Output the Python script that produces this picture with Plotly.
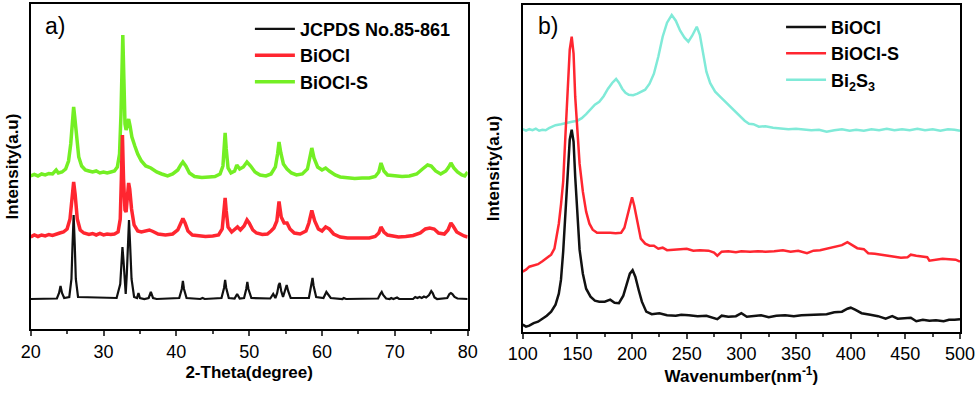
import plotly.graph_objects as go

# ---- a) XRD ----
jcpds_x = [20, 23.6, 23.9, 24.1, 24.3, 24.6, 25.3, 25.6, 25.75, 25.9, 26.05, 26.2, 26.5,
           31.8, 32.3, 32.45, 32.6, 32.75, 32.95, 33.05, 33.2, 33.35, 33.5, 33.65, 33.85, 34.2,
           34.6, 34.8, 35.0, 35.6, 36.2, 36.5, 36.8, 37.3, 40.4, 40.75, 40.9, 41.05, 41.4,
           43.3, 43.6, 43.9, 46.2, 46.55, 46.7, 46.85, 47.2, 48.0, 48.35, 48.7,
           49.3, 49.6, 49.75, 49.9, 50.3, 52.9, 53.3, 53.6, 53.85, 54.05, 54.2, 54.4, 54.65,
           54.9, 55.15, 55.35, 55.7, 58.2, 58.55, 58.7, 58.85, 59.2, 60.2, 60.6, 60.8, 61.2,
           62.8, 63.0, 63.3, 67.7, 68.0, 68.2, 68.4, 68.8, 69.3, 69.5, 69.8, 70.1, 70.3, 70.6,
           72.5, 72.8, 73.1, 73.4, 73.7, 74.0, 74.3, 74.7, 75.0, 75.2, 75.45, 75.8,
           77.2, 77.5, 77.7, 77.9, 78.2, 78.6, 80]
jcpds_y = [30, 30.5, 36, 43, 36, 31, 32, 50, 85, 114, 85, 50, 32,
           31, 45, 65, 82, 68, 40, 35, 55, 90, 109, 85, 50, 32,
           31, 36, 31, 30, 31, 37, 31, 30, 31, 40, 48, 40, 31,
           30, 31, 30, 31, 41, 49, 41, 31, 30.5, 35, 30.5,
           31, 40, 47, 40, 31, 30.5, 35, 31, 36, 44, 46, 38, 32,
           38, 44, 38, 31, 31, 44, 51, 43, 32, 31, 37, 35, 31,
           30, 31, 30, 30.5, 35, 37, 34, 30.5, 30, 31, 30, 30.5, 31.5, 30,
           30, 32, 31, 32, 31, 32.5, 31.5, 34, 38, 36, 31.5, 30,
           31, 35, 36, 35, 32, 30.5, 30]

biocl_x = [20, 20.5, 21, 21.5, 22, 22.5, 23, 23.5, 24, 24.5, 25, 25.4, 25.7, 25.9, 26.1, 26.4,
           26.8, 27.3, 28, 28.5, 29, 29.5, 30, 30.5, 31, 31.5, 32, 32.3, 32.45, 32.6, 32.75,
           32.95, 33.1, 33.3, 33.45, 33.6, 33.85, 34.2, 34.7, 35.2, 35.8, 36.3, 36.8, 37.5,
           38.5, 39.5, 40.2, 40.6, 40.9, 41.2, 41.6, 42.2, 43, 44, 45, 45.8, 46.3, 46.55, 46.7,
           46.85, 47.1, 47.6, 48.0, 48.4, 48.8, 49.3, 49.7, 50.0, 50.5, 51, 51.8, 52.5, 53,
           53.4, 53.8, 54.1, 54.4, 54.8, 55.2, 55.6, 56.2, 57, 57.8, 58.2, 58.6, 59, 59.5, 60.0,
           60.5, 61, 61.6, 62.5, 63.5, 64.5, 65.5, 66.5, 67.3, 67.8, 68.1, 68.5, 69, 69.8,
           70.5, 71.5, 72.5, 73.5, 74.2, 74.8, 75.4, 76, 76.8, 77.3, 77.7, 78, 78.5, 79, 79.5, 80]
biocl_y = [92, 94, 92.5, 94, 93, 94.5, 93.5, 95, 96, 97, 100, 110, 135, 147, 135, 110,
           99, 96, 94.5, 95.5, 94, 95.5, 94, 95, 94.5, 95, 97, 110, 150, 194, 150,
           119, 117, 138, 146, 140, 120, 104, 98, 97, 98, 99, 97.5, 95,
           94, 95, 99, 106, 110.5, 106, 98, 94, 93, 92.5, 93, 94, 100, 118, 131,
           118, 102, 97, 99, 102, 99, 103, 109, 106, 99, 96, 94.5, 95, 98,
           101, 108, 127.5, 112, 106, 106, 100, 96, 95, 98, 106, 118.5, 108, 100, 98,
           102, 100, 95, 92, 91, 91, 90.5, 91, 92.5, 96, 102, 97, 94, 93,
           92, 92.5, 93.5, 96, 100, 101, 100, 96, 95, 99, 106, 103, 97, 95, 93, 92]

bioclS_x = [20, 20.5, 21, 21.5, 22, 22.5, 23, 23.5, 23.8, 24.3, 24.8, 25.2, 25.5, 25.75, 25.9,
            26.05, 26.3, 26.6, 27, 27.5, 28, 28.5, 29, 29.5, 30, 30.5, 31, 31.5, 31.9, 32.2,
            32.4, 32.55, 32.65, 32.8, 32.95, 33.1, 33.3, 33.45, 33.65, 33.9, 34.3, 34.7, 35.2,
            35.8, 36.5, 37.3, 38, 38.8, 39.5, 40.2, 40.6, 40.9, 41.3, 41.8, 42.5, 43.5, 44.5,
            45.3, 46.0, 46.4, 46.6, 46.7, 46.85, 47.1, 47.5, 48.0, 48.3, 48.7, 49.2, 49.7, 50.2,
            50.8, 51.5, 52.3, 53, 53.6, 53.9, 54.1, 54.35, 54.7, 55.2, 55.8, 56.5, 57.3, 58,
            58.35, 58.6, 58.9, 59.4, 60, 60.5, 61, 61.8, 62.5, 63.5, 64.5, 65.5, 66.5, 67.3,
            67.8, 68.1, 68.5, 69, 70, 71, 72, 73, 73.8, 74.5, 75, 75.6, 76.3, 77, 77.4, 77.7,
            78.1, 78.6, 79.2, 79.6, 80]
bioclS_y = [153, 154.5, 153, 155, 154, 155.5, 155, 159, 156, 157, 160, 168, 185, 210, 222,
            212, 190, 172, 163, 159, 158, 157, 158, 156, 157, 156, 157, 158, 162, 175,
            215, 280, 294, 250, 205, 199, 208, 210, 203, 192, 183, 175, 168,
            163, 161, 157, 155, 153, 155, 159, 164, 167, 163, 156, 152.5, 151.5, 152,
            152.5, 155, 163, 185, 196, 180, 161, 156, 158, 164, 160, 162, 167, 163,
            157, 154, 153, 155, 162, 175, 187, 176, 165, 160, 156, 154, 155, 160,
            171, 181, 171, 162, 159, 161, 158, 154, 152, 151, 150.5, 151, 151, 152.5,
            157, 166, 158, 154, 153, 152.5, 153, 155, 160, 164, 163, 158, 155, 158, 162, 166,
            161, 157, 154, 153, 157]

# ---- b) Raman ----
r_biocl_x = [100, 103, 106, 110, 114, 118, 122, 126, 130, 133, 135, 137, 139, 141, 143, 144.8,
             146.5, 148, 150, 152, 155, 158, 162, 166, 170, 175, 180, 184, 188, 192, 195, 198,
             200.5, 203, 206, 209, 213, 218, 225, 232, 240, 245, 252, 260, 268, 275, 278, 282,
             288, 295, 300, 305, 312, 318, 325, 332, 340, 348, 355, 362, 370, 378, 385, 392,
             397, 400, 404, 410, 418, 425, 432, 438, 443, 450, 455, 460, 466, 472, 478, 485,
             490, 495, 500]
r_biocl_y = [7, 5, 6, 8.5, 10, 13, 16, 20, 27, 38, 52, 80, 120, 162, 192, 202,
             190, 155, 115, 82, 58, 43, 35, 31, 30, 30, 32, 29, 28.5, 36, 47, 58,
             61.5, 55, 42, 30, 20, 17.5, 18.5, 16.5, 16, 17, 16.5, 15.5, 16, 14, 12.5, 16,
             15, 15.5, 18.5, 15, 15.5, 16.5, 14.5, 16, 16.5, 15.5, 16.5, 17, 17.5, 17.5, 19.5, 20,
             23, 24, 22, 18.5, 17, 15.5, 13, 15.5, 13, 13.5, 14, 10.5, 12, 11, 11.5, 10.5,
             12, 12, 12.5]

r_bioclS_x = [100, 103, 106, 110, 114, 118, 122, 126, 129, 131, 133, 135, 137, 139, 141, 143,
              144.8, 146.5, 148, 150, 152, 155, 158, 161, 164, 168, 172, 176, 180, 185, 190,
              193, 196, 198.5, 200, 202, 205, 208, 212, 216, 220, 224, 228, 232, 238, 245, 250,
              256, 262, 270, 275, 278, 282, 288, 295, 300, 308, 315, 322, 330, 338, 345, 352,
              360, 366, 372, 378, 385, 392, 397, 401, 406, 412, 416, 422, 430, 438, 446, 452,
              455, 460, 466, 470, 472, 478, 484, 490, 496, 500]
r_bioclS_y = [60, 62, 65, 66, 67.5, 70.5, 73.5, 77, 83, 95, 108, 127, 150, 195, 240, 282,
              295, 278, 235, 195, 168, 140, 120, 108, 102, 99, 99, 99.5, 99, 98.5, 99,
              104, 117, 130, 134.5, 126, 110, 93, 88, 86, 86, 83, 84, 81.5, 82, 82.5, 83,
              81, 81.5, 81, 79, 76, 80, 80.5, 79.5, 80.5, 80, 80.5, 80, 80.5, 81.5, 80, 81,
              78.5, 81, 81.5, 83, 84.5, 86.5, 89.5, 87, 83.5, 82.5, 78.5, 78, 76.5, 75.5, 74, 74.5,
              77, 76, 75, 74.5, 71, 72, 73, 72.5, 72, 70]

r_bi2s3_x = [100, 103, 106, 109, 112, 115, 118, 121, 124, 127, 130, 135, 140, 145, 150, 154,
             158, 162, 166, 170, 174, 178, 182, 185.4, 188, 191, 194, 197, 201, 205, 208, 212,
             216, 220, 224, 228, 232, 236.3, 240, 244, 248, 251.5, 255, 259.2, 262, 265, 268,
             271.5, 276, 281, 286, 290, 295, 299, 303, 307, 311, 316, 322, 329, 336, 343, 350,
             357, 364, 371, 378, 385, 392, 399, 405, 412, 419, 426, 433, 440, 447, 454, 461,
             468, 475, 482, 489, 495, 500]
r_bi2s3_y = [202.5, 201, 202.5, 201.5, 203, 201, 202, 201.5, 203.5, 205, 206.5, 207.5, 209, 210,
             211, 213.5, 217.5, 222, 227, 230, 235.5, 243, 249, 252.7, 249, 243, 239, 237, 236.5,
             238, 240, 242, 248, 258, 275, 295, 309, 316.7, 311, 301, 294, 290, 296, 305, 297,
             278, 260, 248.5, 240, 234.5, 229, 225, 219, 215, 211, 208, 207.5, 205, 205.5, 204,
             203.5, 202.5, 203, 202, 201.5, 202, 200, 201.5, 202.5, 201, 202, 201, 202.5, 201.5,
             203, 201.5, 202.5, 201.5, 203, 201.5, 202.5, 201, 202.5, 202, 201]

BLACK = "#111111"
RED = "#ff2630"
GREEN = "#74ef24"
CYAN = "#80ead8"
FONT = "Liberation Sans, Arial, sans-serif"

fig = go.Figure()

# drawn back-to-front, legend reversed to read top-down
fig.add_trace(go.Scatter(x=bioclS_x, y=bioclS_y, name="BiOCl-S", mode="lines",
                         line=dict(color=GREEN, width=3.5), xaxis="x", yaxis="y", legend="legend"))
fig.add_trace(go.Scatter(x=biocl_x, y=biocl_y, name="BiOCl", mode="lines",
                         line=dict(color=RED, width=3.5), xaxis="x", yaxis="y", legend="legend"))
fig.add_trace(go.Scatter(x=jcpds_x, y=jcpds_y, name="JCPDS No.85-861", mode="lines",
                         line=dict(color=BLACK, width=2.2), xaxis="x", yaxis="y", legend="legend"))

fig.add_trace(go.Scatter(x=r_bi2s3_x, y=r_bi2s3_y, name="Bi<sub>2</sub>S<sub>3</sub>", mode="lines",
                         line=dict(color=CYAN, width=2.5), xaxis="x2", yaxis="y2", legend="legend2"))
fig.add_trace(go.Scatter(x=r_bioclS_x, y=r_bioclS_y, name="BiOCl-S", mode="lines",
                         line=dict(color=RED, width=2.5), xaxis="x2", yaxis="y2", legend="legend2"))
fig.add_trace(go.Scatter(x=r_biocl_x, y=r_biocl_y, name="BiOCl", mode="lines",
                         line=dict(color=BLACK, width=2.5), xaxis="x2", yaxis="y2", legend="legend2"))

axis_common = dict(showline=True, mirror=True, linecolor="black", linewidth=2,
                   showgrid=False, zeroline=False, automargin=False)
xfont = dict(family=FONT, size=18, color="black")
tfont = dict(family=FONT, size=17, color="black", weight="bold")

fig.update_layout(
    width=980, height=395,
    margin=dict(l=0, r=0, t=0, b=0),
    paper_bgcolor="white", plot_bgcolor="white",
    font=dict(family=FONT, color="black"),
    xaxis=dict(domain=[0.0313, 0.4772], range=[20, 80], dtick=10, ticks="outside",
               ticklen=5, tickwidth=1.5, tickfont=xfont,
               minor=dict(dtick=5, ticks="outside", ticklen=3, tickwidth=1.5),
               title=dict(text="2-Theta(degree)", font=tfont, standoff=6), **axis_common),
    yaxis=dict(domain=[0.1671, 0.9899], range=[0, 325], showticklabels=False, ticks="",
               title=dict(text="Intensity(a.u)", font=tfont, standoff=6), **axis_common),
    xaxis2=dict(domain=[0.5334, 0.9796], range=[100, 500], dtick=50, ticks="outside",
                ticklen=5, tickwidth=1.5, tickfont=xfont, anchor="y2",
                minor=dict(dtick=25, ticks="outside", ticklen=3, tickwidth=1.5),
                title=dict(text="Wavenumber(nm<sup>-1</sup>)", font=tfont, standoff=6), **axis_common),
    yaxis2=dict(domain=[0.1603, 0.9873], range=[0, 326.7], showticklabels=False, ticks="",
                anchor="x2",
                title=dict(text="Intensity(a.u)", font=tfont, standoff=17), **axis_common),
    legend=dict(x=0.255, y=0.973, xanchor="left", yanchor="top", traceorder="reversed",
                bgcolor="rgba(0,0,0,0)", font=dict(family=FONT, size=18, weight="bold"),
                itemwidth=40),
    legend2=dict(x=0.797, y=0.978, xanchor="left", yanchor="top", traceorder="reversed",
                 bgcolor="rgba(0,0,0,0)", font=dict(family=FONT, size=18, weight="bold"),
                 itemwidth=40),
    annotations=[
        dict(text="a)", x=0.0566, y=0.933, xref="paper", yref="paper", showarrow=False,
             xanchor="center", yanchor="middle",
             font=dict(family=FONT, size=23, color="black")),
        dict(text="b)", x=0.5587, y=0.933, xref="paper", yref="paper", showarrow=False,
             xanchor="center", yanchor="middle",
             font=dict(family=FONT, size=23, color="black")),
    ],
)

fig.write_html("out.html", config={"displayModeBar": False},
               post_script="document.body.style.margin='0';")
